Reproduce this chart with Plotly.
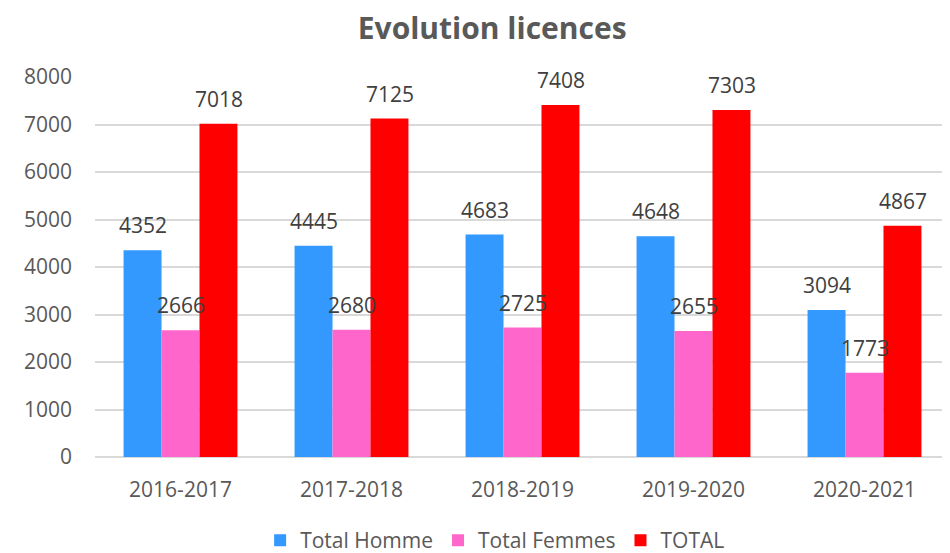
import plotly.graph_objects as go

seasons = ["2016-2017", "2017-2018", "2018-2019", "2019-2020", "2020-2021"]
total_homme = [4352, 4445, 4683, 4648, 3094]
total_femmes = [2666, 2680, 2725, 2655, 1773]
total = [7018, 7125, 7408, 7303, 4867]

series = [
    ("Total Homme", total_homme, "#3399FF", -38),
    ("Total Femmes", total_femmes, "#FF66CC", 0),
    ("TOTAL", total, "#FF0000", 38),
]

FONT = "Open Sans"
fig = go.Figure()
annotations = []
for name, vals, color, shift in series:
    fig.add_trace(go.Bar(
        name=name, x=seasons, y=vals,
        marker=dict(color=color, line=dict(color=color, width=0)),
    ))
    for s, v in zip(seasons, vals):
        annotations.append(dict(
            x=s, y=v, xref="x", yref="y", text=str(v), showarrow=False,
            xshift=shift, yshift=9, yanchor="bottom",
            font=dict(family=FONT, size=21, color="#404040"),
        ))

# page body has an 8px margin, so the figure is sized/placed to compensate
fig.update_layout(
    width=942, height=545,
    margin=dict(l=87, r=0, t=69, b=96, autoexpand=False),
    paper_bgcolor="white", plot_bgcolor="white",
    barmode="group", bargap=0.334, bargroupgap=0,
    title=dict(text="<b>Evolution licences</b>", x=0.514, xanchor="center",
               xref="container", y=0.962, yref="container", yanchor="middle",
               font=dict(family=FONT, size=30, color="#595959")),
    font=dict(family=FONT, size=21, color="#595959"),
    annotations=annotations,
    legend=dict(orientation="h", x=0.468, xanchor="center",
                y=-0.22, yanchor="middle",
                font=dict(family=FONT, size=21, color="#595959"),
                itemwidth=30, tracegroupgap=0),
    showlegend=True,
)
fig.update_yaxes(range=[0, 8000], dtick=1000, showgrid=True, gridcolor="#D9D9D9",
                 gridwidth=1.5, zeroline=True, zerolinecolor="#D9D9D9", zerolinewidth=1.5,
                 showline=False, ticklabelstandoff=22,
                 tickfont=dict(family=FONT, size=21, color="#595959"))
fig.update_xaxes(showgrid=False, showline=False, ticklabelstandoff=18,
                 tickfont=dict(family=FONT, size=21, color="#595959"))

fig.write_html("out.html")
